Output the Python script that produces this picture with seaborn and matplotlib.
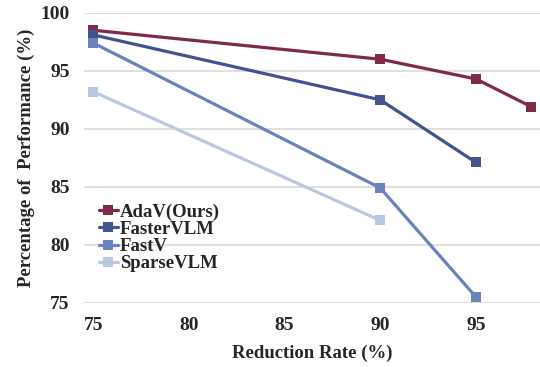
import matplotlib
matplotlib.use("Agg")
import matplotlib.pyplot as plt
import seaborn as sns
import pandas as pd

methods = ["AdaV(Ours)", "FasterVLM", "FastV", "SparseVLM"]
adav_x = [75, 90, 95, 97.9]
adav_y = [98.5, 96.0, 94.3, 91.9]
faster_x = [75, 90, 95]
faster_y = [98.1, 92.5, 87.1]
fastv_x = [75, 90, 95]
fastv_y = [97.4, 84.9, 75.5]
sparse_x = [75, 90]
sparse_y = [93.2, 82.1]
colors = ["#7d2a4b", "#44538f", "#6a82bd", "#b9c8e0"]
xticks = [75, 80, 85, 90, 95]
yticks = [75, 80, 85, 90, 95, 100]

rows = []
for m, xs, ys in zip(methods, [adav_x, faster_x, fastv_x, sparse_x],
                     [adav_y, faster_y, fastv_y, sparse_y]):
    for x, y in zip(xs, ys):
        rows.append({"method": m, "rate": x, "perf": y})
df = pd.DataFrame(rows)

sns.set_theme(style="white")
plt.rcParams["font.family"] = ["Liberation Serif", "DejaVu Serif"]
plt.rcParams["font.weight"] = "bold"

fig, ax = plt.subplots(figsize=(5.4, 3.67), dpi=100)
sns.lineplot(data=df, x="rate", y="perf", hue="method", hue_order=methods,
             palette=colors, marker="s", markersize=7, markeredgewidth=0,
             linewidth=2.3, dashes=False, ax=ax, sort=False)

ax.set_xlim(74.5, 98.35)
ax.set_ylim(75, 100)
ax.set_xticks(xticks)
ax.set_yticks(yticks)
ax.set_xticklabels([str(t) for t in xticks], fontsize=14, fontweight="bold")
ax.set_yticklabels([str(t) for t in yticks], fontsize=14, fontweight="bold")
ax.tick_params(axis="both", length=0, pad=10)
ax.yaxis.grid(True, color="#d9d9d9", linewidth=1.2)
ax.set_axisbelow(True)
for s in ax.spines.values():
    s.set_visible(False)
ax.set_xlabel("Reduction Rate (%)", fontsize=13.5, fontweight="bold", labelpad=8)
ax.set_ylabel("Percentage of  Performance (%)", fontsize=13.5, fontweight="bold", labelpad=4)

leg = ax.legend(loc="lower left", bbox_to_anchor=(0.005, 0.06), frameon=False,
                prop={"size": 13.5, "weight": "bold"}, handlelength=1.0,
                handletextpad=0.1, labelspacing=0.0, borderaxespad=0.3)

fig.subplots_adjust(left=0.155, right=1.0, top=0.965, bottom=0.175)
fig.savefig("out.png", dpi=100)
